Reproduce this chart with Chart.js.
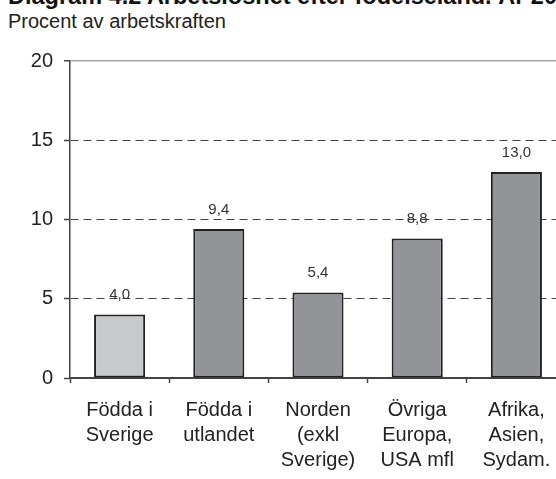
<!DOCTYPE html>
<html>
<head>
<meta charset="utf-8">
<script src="https://cdn.jsdelivr.net/npm/chart.js@4/dist/chart.umd.min.js"></script>
<style>
html, body { margin: 0; padding: 0; width: 556px; height: 479px; overflow: hidden; background: #fff; }
#title { position: absolute; left: 8px; top: -15px; font: bold 23.5px "Liberation Sans", Arial, sans-serif; line-height: 23px; color: #111; white-space: nowrap; }
#subtitle { position: absolute; left: 8px; top: 11px; font: 20px "Liberation Sans", Arial, sans-serif; line-height: 20px; color: #222; white-space: nowrap; }
#wrap { position: absolute; left: 0; top: 0; width: 566px; height: 479px; }
</style>
</head>
<body>
<div id="title">Diagram 4.2 Arbetslöshet efter födelseland. År 2005</div>
<div id="subtitle">Procent av arbetskraften</div>
<div id="wrap"><canvas id="c" width="566" height="479"></canvas></div>
<script>
const categories = [
  ["Födda i", "Sverige"],
  ["Födda i", "utlandet"],
  ["Norden", "(exkl", "Sverige)"],
  ["Övriga", "Europa,", "USA mfl"],
  ["Afrika,", "Asien,", "Sydam."]
];
const values = [4.0, 9.4, 5.4, 8.8, 13.0];
const valueLabels = ["4,0", "9,4", "5,4", "8,8", "13,0"];
const yTicks = [0, 5, 10, 15, 20];
const barColors = ["#c8c9cb", "#939497", "#939497", "#939497", "#939497"];

const FONT = '"Liberation Sans", Arial, sans-serif';

const labelPlugin = {
  id: 'valueLabels',
  afterDatasetsDraw(chart) {
    const ctx = chart.ctx;
    const meta = chart.getDatasetMeta(0);
    ctx.save();
    ctx.font = '15px ' + FONT;
    ctx.fillStyle = '#333';
    ctx.textAlign = 'center';
    ctx.textBaseline = 'middle';
    meta.data.forEach((bar, i) => {
      ctx.fillText(valueLabels[i], bar.x, bar.y - 19.5);
    });
    ctx.restore();
  }
};

new Chart(document.getElementById('c'), {
  type: 'bar',
  data: {
    labels: categories,
    datasets: [{
      data: values,
      backgroundColor: barColors,
      borderColor: '#222',
      borderWidth: 2,
      borderSkipped: false,
      barPercentage: 0.515,
      categoryPercentage: 1.0
    }]
  },
  options: {
    responsive: false,
    animation: false,
    devicePixelRatio: 1,
    layout: { padding: { top: 61, right: 0, left: 0, bottom: 0 } },
    plugins: { legend: { display: false }, tooltip: { enabled: false }, title: { display: false } },
    scales: {
      x: {
        afterFit(scale) { scale.height = 101; },
        grid: {
          offset: true,
          drawOnChartArea: false,
          drawTicks: true,
          tickLength: 5,
          tickColor: '#444',
          tickWidth: 1.5
        },
        border: { display: true, color: '#444', width: 1.5 },
        ticks: {
          font: { family: FONT, size: 20, lineHeight: 1.25 },
          color: '#222',
          padding: 15,
          maxRotation: 0,
          autoSkip: false
        }
      },
      y: {
        min: 0,
        max: 20,
        afterFit(scale) { scale.width = 70; },
        afterBuildTicks(scale) { scale.ticks = yTicks.map(v => ({ value: v })); },
        grid: {
          drawTicks: true,
          tickLength: 6,
          tickColor: '#444',
          tickWidth: 1.5,
          color: (c) => c.tick && c.tick.value === 20 ? '#a8a8a8' : '#444',
          lineWidth: (c) => c.tick && c.tick.value === 20 ? 1.5 : 1
        },
        border: {
          display: true,
          color: '#444',
          width: 1.5,
          dash: (c) => (c.tick && (c.tick.value === 20 || c.tick.value === 0)) ? [] : [8, 5]
        },
        ticks: {
          font: { family: FONT, size: 20 },
          color: '#222',
          padding: 11,
          stepSize: 5
        }
      }
    }
  },
  plugins: [labelPlugin]
});
</script>
</body>
</html>
